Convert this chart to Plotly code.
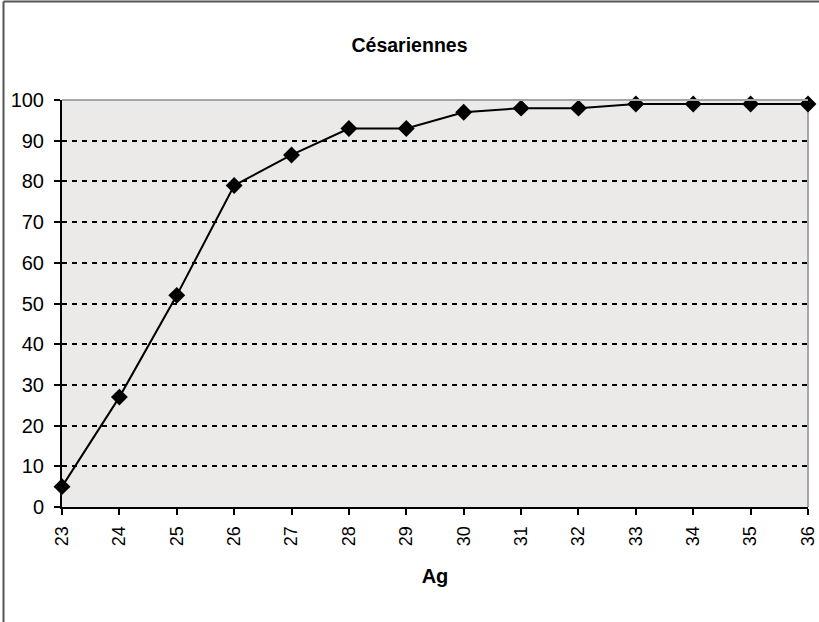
import plotly.graph_objects as go

ages = [23, 24, 25, 26, 27, 28, 29, 30, 31, 32, 33, 34, 35, 36]
cesariennes = [5, 27, 52, 79, 86.5, 93, 93, 97, 98, 98, 99, 99, 99, 99]
y_ticks = list(range(0, 101, 10))

W, H = 819, 622
L, R, T, B = 62, 11, 100, 115
pw, ph = W - L - R, H - T - B

fig = go.Figure()
fig.add_trace(go.Scatter(
    x=ages, y=cesariennes, mode="lines+markers",
    line=dict(color="black", width=2),
    marker=dict(symbol="diamond", size=13, color="black"),
    cliponaxis=False, showlegend=False,
))

font = "Liberation Sans, Arial, sans-serif"
fig.update_layout(
    width=W, height=H,
    margin=dict(l=L, r=R, t=T, b=B, autoexpand=False),
    paper_bgcolor="white", plot_bgcolor="#ebeae9",
    title=dict(text="<b>Césariennes</b>", x=0.5, xanchor="center",
               y=1 - 45 / H, yanchor="middle",
               font=dict(family=font, size=19.5, color="black")),
    font=dict(family=font, color="black"),
    xaxis=dict(range=[23, 36], tickvals=ages, ticktext=[str(a) for a in ages],
               tickangle=-90, showgrid=False, zeroline=False, automargin=False,
               showline=True, linecolor="black", linewidth=2,
               ticks="outside", ticklen=6, tickwidth=2, tickcolor="black",
               ticklabelstandoff=4,
               tickfont=dict(size=18, family=font),
               title=dict(text="<b>Ag</b>", font=dict(size=20, family=font), standoff=24)),
    yaxis=dict(range=[0, 100], tickvals=y_ticks, showgrid=True, automargin=False,
               gridcolor="black", griddash="5px,5px", gridwidth=2,
               zeroline=False, showline=True, linecolor="black", linewidth=2,
               ticks="outside", ticklen=6, tickwidth=2, tickcolor="black",
               ticklabelstandoff=6,
               tickfont=dict(size=20, family=font)),
)

# plot area top/right border (gray)
fig.add_shape(type="line", xref="paper", yref="paper", x0=0, x1=1, y0=1, y1=1,
              line=dict(color="#a6a6a6", width=2))
fig.add_shape(type="line", xref="paper", yref="paper", x0=1, x1=1, y0=0, y1=1,
              line=dict(color="#a6a6a6", width=2), layer="below")
# outer chart frame (only left and top visible)
xl = (3.5 - L) / pw
yt = (H - B - 1.5) / ph
yb = -(B + 5) / ph
xr = (W + 5 - L) / pw
fig.add_shape(type="line", xref="paper", yref="paper", x0=xl, x1=xl, y0=yb, y1=yt,
              line=dict(color="#555555", width=2))
fig.add_shape(type="line", xref="paper", yref="paper", x0=xl, x1=xr, y0=yt, y1=yt,
              line=dict(color="#555555", width=2))

fig.write_html("out.html", config={"displayModeBar": False},
               post_script="document.body.style.margin='0';document.body.style.overflow='hidden';")
